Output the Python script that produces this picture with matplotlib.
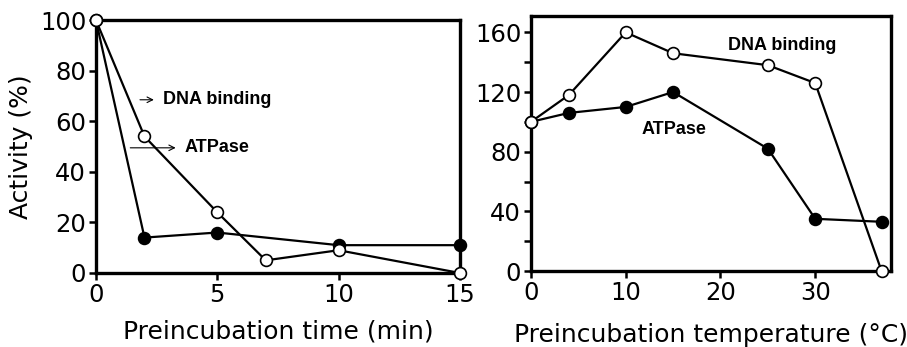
import matplotlib.pyplot as plt
from matplotlib.ticker import MultipleLocator

# Left panel: preincubation time
time_atp = [0, 2, 5, 10, 15]
act_atp_time = [100, 14, 16, 11, 11]
time_dna = [0, 2, 5, 7, 10, 15]
act_dna_time = [100, 54, 24, 5, 9, 0]

# Right panel: preincubation temperature
temp = [0, 4, 10, 15, 25, 30, 37]
act_atp_temp = [100, 106, 110, 120, 82, 35, 33]
act_dna_temp = [100, 118, 160, 146, 138, 126, 0]

plt.rcParams['font.family'] = ['DejaVu Sans']
tick_fs = 17.5
lab_fs = 18
ann_font = dict(family='Liberation Sans', weight='bold', size=13)

fig = plt.figure(figsize=(9.07, 3.47), dpi=100)
ax1 = fig.add_axes([0.1058, 0.2133, 0.4012, 0.7287])
ax2 = fig.add_axes([0.5854, 0.219, 0.397, 0.735])

mk = dict(markersize=8.5, markeredgewidth=1.2, markeredgecolor='black',
          clip_on=False, zorder=3)

# left panel
ax1.plot(time_atp, act_atp_time, '-o', color='black', lw=1.6,
         markerfacecolor='black', **mk)
ax1.plot(time_dna, act_dna_time, '-o', color='black', lw=1.6,
         markerfacecolor='white', **mk)
ax1.set_xlim(0, 15)
ax1.set_ylim(0, 100)
ax1.set_xticks([0, 5, 10, 15])
ax1.set_yticks([0, 20, 40, 60, 80, 100])
ax1.set_xlabel('Preincubation time (min)', fontsize=lab_fs, labelpad=9)
ax1.set_ylabel('Activity (%)', fontsize=lab_fs, labelpad=5)

ax1.annotate('', xy=(2.5, 68.5), xytext=(1.7, 68.5),
             arrowprops=dict(arrowstyle='->', lw=0.8, color='black'))
ax1.text(2.75, 68.5, 'DNA binding', va='center', ha='left', **ann_font)
ax1.annotate('', xy=(3.4, 49.5), xytext=(1.3, 49.5),
             arrowprops=dict(arrowstyle='->', lw=0.8, color='black'))
ax1.text(3.65, 49.5, 'ATPase', va='center', ha='left', **ann_font)

# right panel
ax2.plot(temp, act_atp_temp, '-o', color='black', lw=1.6,
         markerfacecolor='black', **mk)
ax2.plot(temp, act_dna_temp, '-o', color='black', lw=1.6,
         markerfacecolor='white', **mk)
ax2.set_xlim(0, 38)
ax2.set_ylim(0, 171)
ax2.set_xticks([0, 10, 20, 30])
ax2.set_yticks([0, 40, 80, 120, 160])
ax2.yaxis.set_minor_locator(MultipleLocator(20))
ax2.set_xlabel('Preincubation temperature (\u00b0C)', fontsize=lab_fs,
               labelpad=13)
ax2.text(26.5, 151, 'DNA binding', va='center', ha='center', **ann_font)
ax2.text(15.1, 95, 'ATPase', va='center', ha='center', **ann_font)

for ax in (ax1, ax2):
    for s in ax.spines.values():
        s.set_linewidth(2.4)
    ax.tick_params(which='both', direction='out', length=5, width=1.8,
                   labelsize=tick_fs, pad=2)

fig.savefig('out.png', dpi=100)
